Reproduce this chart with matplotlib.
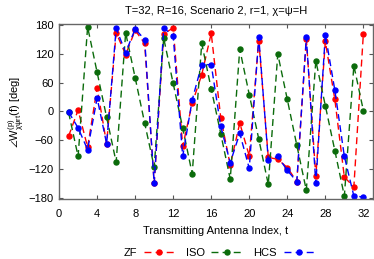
import matplotlib
matplotlib.use('Agg')
import matplotlib.pyplot as plt
import numpy as np

# phase of W per transmit antenna
antenna = np.arange(1, 33)
zf = [-51, 3, -74, 49, -67, 163, 118, 168, 141, -149, 161, 173, -72, 17, 76, 162,
      -13, -111, -24, -92, 147, -95, -99, -116, -145, 150, -134, 145, 25, -136, -156, 161]
iso = [-2, -93, 175, 81, -12, -105, 163, 70, -24, -115, 152, 58, -34, -129, 141, 47,
       -46, -140, 129, 35, -57, -151, 119, 25, -70, -163, 105, 12, -81, -175, 95, 2]
hcs = [-1, -34, -79, 28, -67, 172, 122, 171, 149, -149, 173, 156, -93, 24, 97, 97,
       -31, -106, -45, -118, 154, -100, -93, -122, -145, 154, -149, 159, 44, -93, -175, -177]
labels = ['ZF', 'ISO', 'HCS']
colors = ['#ff0000', '#0b6b0b', '#0000ff']
xticks = [0, 4, 8, 12, 16, 20, 24, 28, 32]
yticks = [-180, -120, -60, 0, 60, 120, 180]

plt.rcParams['font.family'] = ['Liberation Sans', 'DejaVu Sans']
plt.rcParams['font.size'] = 8
plt.rcParams['mathtext.fontset'] = 'custom'
plt.rcParams['mathtext.rm'] = 'Liberation Sans'
plt.rcParams['mathtext.it'] = 'Liberation Sans'

fig = plt.figure(figsize=(3.74, 2.59), dpi=100)
ax = fig.add_axes([0.158, 0.232, 0.839, 0.675])

for vals, lab, col in zip([zf, iso, hcs], labels, colors):
    ax.plot(antenna, vals, color=col, lw=1.0, ls=(0, (5, 3)), marker='o',
            markersize=3.6, label=lab)

ax.set_xlim(0, 33)
ax.set_ylim(-181, 181)
ax.set_xticks(xticks)
ax.set_yticks(yticks)
ax.tick_params(direction='in', top=True, right=True, length=3, width=0.8,
               color='#555555', labelsize=8)
ax.tick_params(axis='x', pad=7)
ax.tick_params(axis='y', pad=4)
for sp in ax.spines.values():
    sp.set_color('#666666')
    sp.set_linewidth(1.0)

ax.set_title('T=32, R=16, Scenario 2, r=1, χ=ψ=H', fontsize=8, pad=7)
ax.set_xlabel('Transmitting Antenna Index, t', fontsize=8, labelpad=5)
ax.set_ylabel(r'$\angle W^{(p)}_{\chi\psi r t}(f)$ [deg]', fontsize=8, labelpad=1)

ax.legend(loc='center', bbox_to_anchor=(0.51, -0.31), ncol=3, frameon=False,
          markerfirst=False, handlelength=2.8, columnspacing=1.0,
          handletextpad=0.6, fontsize=8)

fig.savefig('out.png', dpi=100)
